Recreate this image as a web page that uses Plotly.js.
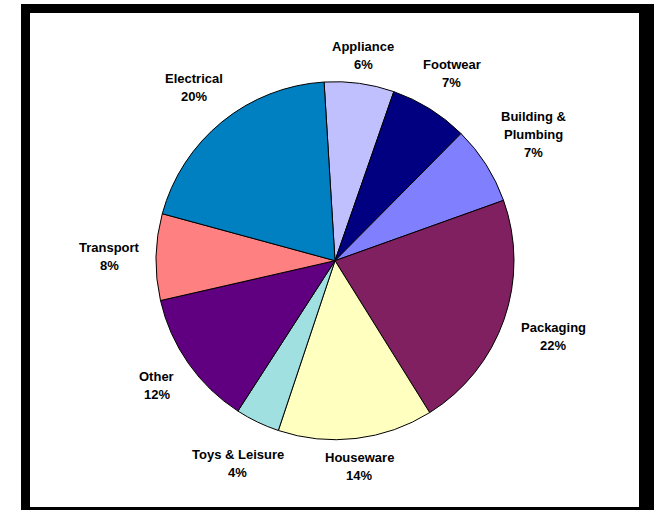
<!DOCTYPE html>
<html>
<head>
<meta charset="utf-8">
<script src="https://cdn.plot.ly/plotly-3.0.1.min.js"></script>
<style>
html,body{margin:0;padding:0;background:#fff;}
#chart{width:654px;height:512px;}
</style>
</head>
<body>
<div id="chart"></div>
<script>
var categories = ["Appliance", "Footwear", "Building &<br>Plumbing", "Packaging", "Houseware", "Toys & Leisure", "Other", "Transport", "Electrical"];
var shares = [6.3, 7.1, 7.1, 21.6, 14.0, 4.0, 12.3, 7.8, 19.8];
var sliceColors = ["#C0C0FF", "#000080", "#8080FF", "#802060", "#FFFFC0", "#A0E0E0", "#600080", "#FF8080", "#0080C0"];

var W = 654, H = 512;
var cx = 335, cy = 260.7, r = 179;
var startAngle = -3.5;
var fontFamily = "Liberation Sans, Arial, sans-serif";
var fontSize = 13;
var lineH = 18;

var trace = {
  type: "pie",
  labels: categories,
  values: shares,
  sort: false,
  direction: "clockwise",
  rotation: startAngle,
  marker: {colors: sliceColors, line: {color: "#000000", width: 1}},
  textinfo: "none",
  hoverinfo: "none",
  showlegend: false,
  domain: {x: [(cx - r) / W, (cx + r) / W], y: [(H - cy - r) / H, (H - cy + r) / H]}
};

// label placement derived from the slice values (mid-angle of each slice)
var ctx = document.createElement("canvas").getContext("2d");
ctx.font = "bold " + fontSize + "px 'Liberation Sans'";
var total = shares.reduce(function (a, b) { return a + b; }, 0);
var annotations = [];
var acc = 0;
shares.forEach(function (v, i) {
  var mid = (startAngle + (acc + v / 2) / total * 360) * Math.PI / 180;
  acc += v;
  var lines = categories[i].split("<br>");
  lines.push(Math.round(v / total * 100) + "%");
  var w = Math.max.apply(null, lines.map(function (s) { return ctx.measureText(s).width; }));
  var h = lines.length * lineH;
  var s = Math.abs(Math.sin(mid)), c = Math.abs(Math.cos(mid));
  var ext = s * w / 2 + c * h / 2;
  var gap = 5 + 11 * s;
  var R = r + gap + ext;
  var px = cx + R * Math.sin(mid);
  var py = cy - R * Math.cos(mid);
  lines.forEach(function (t, j) {
    var yj = py - h / 2 + lineH * (j + 0.5);
    annotations.push({
      xref: "paper", yref: "paper",
      x: px / W, y: 1 - yj / H,
      xanchor: "center", yanchor: "middle",
      text: t, showarrow: false,
      font: {family: fontFamily, size: fontSize, color: "#000000", weight: "bold"}
    });
  });
});

var layout = {
  width: W, height: H,
  margin: {l: 0, r: 0, t: 0, b: 0},
  paper_bgcolor: "#ffffff",
  showlegend: false,
  annotations: annotations,
  shapes: [
    {type: "rect", xref: "paper", yref: "paper", layer: "below",
     x0: 21 / W, x1: 1.0, y0: 1 - 510 / H, y1: 1 - 4 / H,
     fillcolor: "#000000", line: {width: 0}},
    {type: "rect", xref: "paper", yref: "paper", layer: "below",
     x0: 30 / W, x1: 639 / W, y0: 1 - 507 / H, y1: 1 - 13 / H,
     fillcolor: "#ffffff", line: {width: 0}}
  ]
};

Plotly.newPlot("chart", [trace], layout, {displayModeBar: false, staticPlot: true});
</script>
</body>
</html>
